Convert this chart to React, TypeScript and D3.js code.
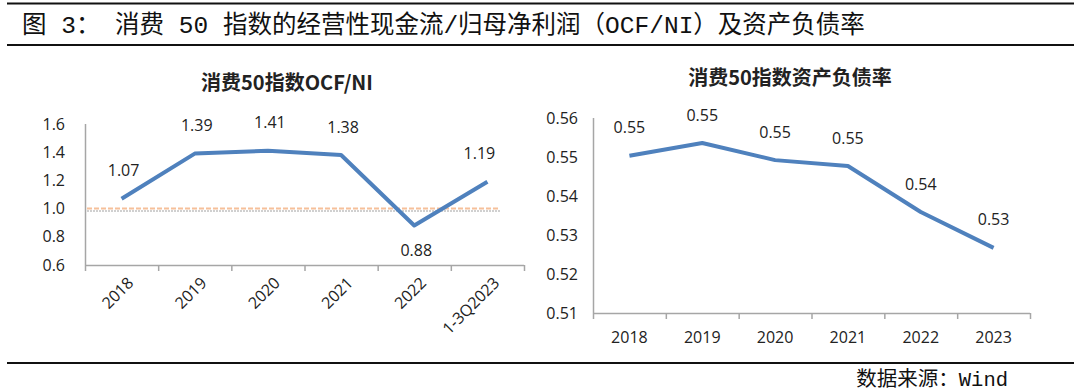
import React, { useEffect, useRef } from 'react';
import * as d3 from 'd3';

// 消费50指数 OCF/NI
const ocfCats = ['2018', '2019', '2020', '2021', '2022', '1-3Q2023'];
const ocfValues = [1.07, 1.39, 1.41, 1.38, 0.88, 1.19];
const ocfTicks = [0.6, 0.8, 1.0, 1.2, 1.4, 1.6];
const ocfRef = [1.0];

// 消费50指数 资产负债率
const debtCats = ['2018', '2019', '2020', '2021', '2022', '2023'];
const debtValues = [0.5503, 0.5536, 0.5492, 0.5477, 0.5359, 0.5267];
const debtTicks = [0.51, 0.52, 0.53, 0.54, 0.55, 0.56];

const W = 1080;
const H = 392;
const LINE = '#4F81BD';
const AXIS = '#A6A6A6';
const TXT = '#222';
const NUM_FONT = '"Open Sans", "Noto Sans", sans-serif';
const CJK_FONT = '"Noto Sans CJK SC", "Noto Sans", sans-serif';
const HEI_FONT = '"Liberation Mono", "Noto Sans CJK SC", monospace';

const App = () => {
  const ref = useRef<SVGSVGElement | null>(null);

  useEffect(() => {
    const svg = d3.select(ref.current);
    svg.selectAll('*').remove();

    // header / footer rules
    [3.5, 45, 363].forEach(y => {
      svg.append('line').attr('x1', 7).attr('x2', 1074).attr('y1', y).attr('y2', y)
        .attr('stroke', '#111').attr('stroke-width', 2);
    });

    svg.append('text')
      .attr('x', 22).attr('y', 24).attr('dy', '0.35em')
      .style('font-family', HEI_FONT)
      .style('font-size', '24.5px')
      .style('fill', '#111')
      .style('white-space', 'pre')
      .text('图 3： 消费 50 指数的经营性现金流/归母净利润（OCF/NI）及资产负债率');

    svg.append('text')
      .attr('x', 1008).attr('y', 379).attr('dy', '0.35em')
      .attr('text-anchor', 'end')
      .style('font-family', HEI_FONT)
      .style('font-size', '20.5px')
      .style('fill', '#111')
      .text('数据来源：Wind');

    /* ---------- left chart: OCF/NI ---------- */
    const g1 = svg.append('g');
    const x1 = d3.scaleBand().domain(ocfCats).range([85, 524]);
    const y1 = d3.scaleLinear().domain([0.6, 1.6]).range([265, 124]);

    g1.append('text')
      .attr('x', 287).attr('y', 83).attr('dy', '0.35em')
      .attr('text-anchor', 'middle')
      .style('font-family', CJK_FONT)
      .style('font-size', '20px')
      .style('font-weight', 'bold')
      .style('fill', TXT)
      .text('消费50指数OCF/NI');

    // y axis
    g1.append('line').attr('x1', 85.5).attr('x2', 85.5).attr('y1', y1(1.6)).attr('y2', y1(0.6))
      .attr('stroke', AXIS).attr('stroke-width', 1.5);
    g1.selectAll('.ytick').data(ocfTicks).enter().append('text')
      .attr('x', 65).attr('y', d => y1(d)).attr('dy', '0.35em')
      .attr('text-anchor', 'end')
      .style('font-family', NUM_FONT).style('font-size', '16px').style('fill', TXT)
      .text(d => d3.format('.1f')(d));

    // reference line at 1.0
    ocfRef.forEach(v => {
      g1.append('line').attr('x1', 87).attr('x2', 500).attr('y1', y1(v) + 2.5).attr('y2', y1(v) + 2.5)
        .attr('stroke', '#d0d0d0').attr('stroke-width', 2).attr('stroke-dasharray', '2,1');
      g1.append('line').attr('x1', 87).attr('x2', 500).attr('y1', y1(v)).attr('y2', y1(v))
        .attr('stroke', '#F6C09A').attr('stroke-width', 2).attr('stroke-dasharray', '5,2');
    });

    // x axis
    g1.append('line').attr('x1', 85).attr('x2', 524).attr('y1', 265.5).attr('y2', 265.5)
      .attr('stroke', AXIS).attr('stroke-width', 1.5);
    const edges1 = ocfCats.map(c => x1(c) as number).concat([x1.range()[1]]);
    g1.selectAll('.xtick').data(edges1).enter().append('line')
      .attr('x1', d => d + 0.5).attr('x2', d => d + 0.5).attr('y1', 265).attr('y2', 271)
      .attr('stroke', AXIS).attr('stroke-width', 1.5);
    g1.selectAll('.xlab').data(ocfCats).enter().append('text')
      .attr('transform', d => `translate(${(x1(d) as number) + x1.bandwidth() / 2 + 9},${280}) rotate(-45)`)
      .attr('text-anchor', 'end')
      .attr('dy', '0.35em')
      .style('font-family', NUM_FONT).style('font-size', '16px').style('fill', TXT)
      .text(d => d);

    const line1 = d3.line<number>()
      .x((d, i) => (x1(ocfCats[i]) as number) + x1.bandwidth() / 2)
      .y(d => y1(d));
    g1.append('path').datum(ocfValues).attr('d', line1)
      .attr('fill', 'none').attr('stroke', LINE).attr('stroke-width', 4)
      .attr('stroke-linejoin', 'round');

    g1.selectAll('.dlab').data(ocfValues).enter().append('text')
      .attr('x', (d, i) => (x1(ocfCats[i]) as number) + x1.bandwidth() / 2 + (i === 5 ? -8 : 2))
      .attr('y', (d, i) => (i === 4 ? y1(d) + 25 : y1(d) - 28))
      .attr('dy', '0.35em')
      .attr('text-anchor', 'middle')
      .style('font-family', NUM_FONT).style('font-size', '16px').style('fill', TXT)
      .text(d => d3.format('.2f')(d));

    /* ---------- right chart: debt ratio ---------- */
    const g2 = svg.append('g');
    const x2 = d3.scaleBand().domain(debtCats).range([593, 1030]);
    const y2 = d3.scaleLinear().domain([0.51, 0.56]).range([313, 118]);

    g2.append('text')
      .attr('x', 790).attr('y', 78).attr('dy', '0.35em')
      .attr('text-anchor', 'middle')
      .style('font-family', CJK_FONT)
      .style('font-size', '20px')
      .style('font-weight', 'bold')
      .style('fill', TXT)
      .text('消费50指数资产负债率');

    g2.append('line').attr('x1', 593.5).attr('x2', 593.5).attr('y1', y2(0.56)).attr('y2', y2(0.51))
      .attr('stroke', AXIS).attr('stroke-width', 1.5);
    g2.selectAll('.ytick').data(debtTicks).enter().append('text')
      .attr('x', 578).attr('y', d => y2(d)).attr('dy', '0.35em')
      .attr('text-anchor', 'end')
      .style('font-family', NUM_FONT).style('font-size', '16px').style('fill', TXT)
      .text(d => d3.format('.2f')(d));

    g2.append('line').attr('x1', 593).attr('x2', 1030).attr('y1', 313.5).attr('y2', 313.5)
      .attr('stroke', AXIS).attr('stroke-width', 1.5);
    const edges2 = debtCats.map(c => x2(c) as number).concat([x2.range()[1]]);
    g2.selectAll('.xtick').data(edges2).enter().append('line')
      .attr('x1', d => d + 0.5).attr('x2', d => d + 0.5).attr('y1', 313).attr('y2', 319)
      .attr('stroke', AXIS).attr('stroke-width', 1.5);
    g2.selectAll('.xlab').data(debtCats).enter().append('text')
      .attr('x', d => (x2(d) as number) + x2.bandwidth() / 2)
      .attr('y', 337).attr('dy', '0.35em')
      .attr('text-anchor', 'middle')
      .style('font-family', NUM_FONT).style('font-size', '16px').style('fill', TXT)
      .text(d => d);

    const line2 = d3.line<number>()
      .x((d, i) => (x2(debtCats[i]) as number) + x2.bandwidth() / 2)
      .y(d => y2(d));
    g2.append('path').datum(debtValues).attr('d', line2)
      .attr('fill', 'none').attr('stroke', LINE).attr('stroke-width', 4)
      .attr('stroke-linejoin', 'round');

    g2.selectAll('.dlab').data(debtValues).enter().append('text')
      .attr('x', (d, i) => (x2(debtCats[i]) as number) + x2.bandwidth() / 2)
      .attr('y', d => y2(d) - 28)
      .attr('dy', '0.35em')
      .attr('text-anchor', 'middle')
      .style('font-family', NUM_FONT).style('font-size', '16px').style('fill', TXT)
      .text(d => d3.format('.2f')(d));
  }, []);

  return (
    <svg
      ref={ref}
      width={W}
      height={H}
      style={{ position: 'absolute', left: 0, top: 0, background: '#fff' }}
    />
  );
};

export default App;
